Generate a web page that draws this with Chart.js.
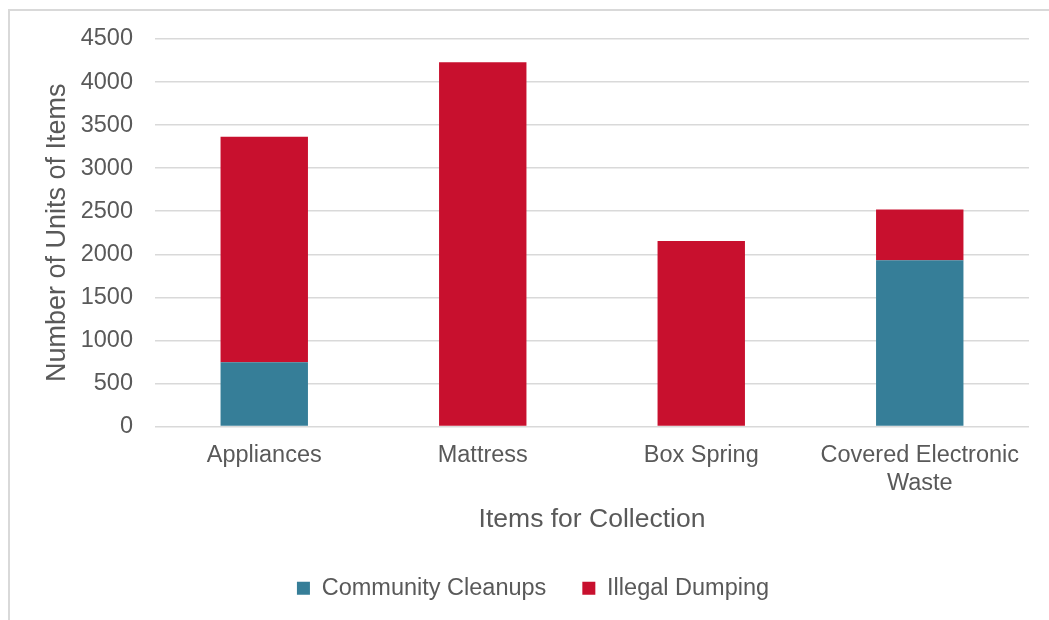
<!DOCTYPE html>
<html>
<head>
<meta charset="utf-8">
<script src="https://cdn.jsdelivr.net/npm/chart.js@4.4.0/dist/chart.umd.min.js"></script>
<style>
  html, body { margin: 0; padding: 0; background: #fff; overflow: hidden; }
  #frame { position: absolute; left: 8px; top: 9px; width: 1100px; height: 700px;
           border-left: 2px solid #d9d9d9; border-top: 2px solid #d9d9d9; }
  #wrap { position: absolute; left: 0; top: 0; width: 1049px; height: 620px; }
</style>
</head>
<body>
<div id="frame"></div>
<div id="wrap"><canvas id="chart" width="1049" height="620"></canvas></div>
<script>
// values
var categories = ['Appliances', 'Mattress', 'Box Spring', ['Covered Electronic', 'Waste']];
var communityCleanups = [745, 0, 0, 1930];
var illegalDumping = [2620, 4230, 2155, 590];
var yTicks = [0, 500, 1000, 1500, 2000, 2500, 3000, 3500, 4000, 4500];

var textColor = '#595959';
var font = "'Liberation Sans', Arial, sans-serif";

var ctx = document.getElementById('chart').getContext('2d');
var chart = new Chart(ctx, {
    type: 'bar',
    data: {
        labels: categories,
        datasets: [{
            label: 'Community Cleanups',
            backgroundColor: '#367e98',
            data: communityCleanups
        }, {
            label: 'Illegal Dumping',
            backgroundColor: '#c8102e',
            data: illegalDumping
        }]
    },
    options: {
        responsive: false,
        animation: false,
        layout: {
            padding: { left: 37, right: 20, top: 39, bottom: 10 }
        },
        datasets: {
            bar: { barPercentage: 0.4, categoryPercentage: 1.0 }
        },
        scales: {
            x: {
                stacked: true,
                grid: { display: false, drawTicks: false },
                border: { display: false },
                ticks: { color: textColor, padding: 15, font: { family: font, size: 23.5 } },
                title: {
                    display: true,
                    text: 'Items for Collection',
                    color: textColor,
                    font: { family: font, size: 26.5 },
                    padding: { top: 0, bottom: 5 }
                },
                afterFit: function (scale) { scale.height = 114; }
            },
            y: {
                stacked: true,
                min: 0,
                max: 4500,
                afterBuildTicks: function (scale) {
                    scale.ticks = yTicks.map(function (v) { return { value: v }; });
                },
                grid: { color: '#d9d9d9', lineWidth: 1.5, drawTicks: false },
                border: { display: false },
                ticks: {
                    color: textColor,
                    padding: 22,
                    font: { family: font, size: 23.5 },
                    callback: function (v) { return String(v); }
                },
                title: {
                    display: true,
                    text: 'Number of Units of Items',
                    color: textColor,
                    font: { family: font, size: 27 },
                    padding: { top: 4, bottom: 4 }
                },
                afterFit: function (scale) { scale.width = 118; }
            }
        },
        plugins: {
            legend: {
                position: 'bottom',
                labels: {
                    color: textColor,
                    boxWidth: 13,
                    boxHeight: 13,
                    padding: 36,
                    font: { family: font, size: 23.5 }
                }
            },
            tooltip: { enabled: false }
        }
    }
});
</script>
</body>
</html>
